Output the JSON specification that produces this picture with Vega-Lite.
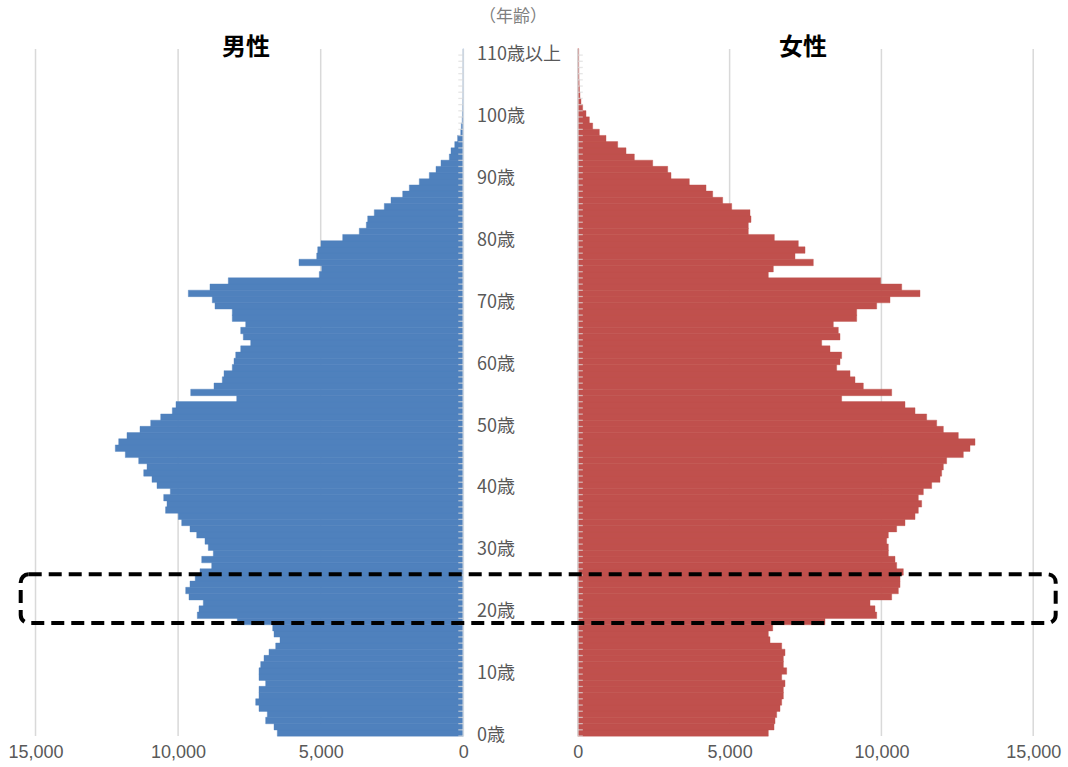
{
 "$schema": "https://vega.github.io/schema/vega-lite/v6.json",
 "width": 1068, "height": 736, "padding": 0,
 "background": "white",
 "config": {"view": {"stroke": null}, "bar": {"continuousBandSize": 6.5}},
 "datasets": {
  "pop": [
   {"age":0,"male":6521,"female":6275},{"age":1,"male":6637,"female":6463},{"age":2,"male":6930,"female":6496},{"age":3,"male":6872,"female":6551},{"age":4,"male":7163,"female":6660},
   {"age":5,"male":7280,"female":6716},{"age":6,"male":7163,"female":6770},{"age":7,"male":7163,"female":6770},{"age":8,"male":6930,"female":6825},{"age":9,"male":7163,"female":6716},
   {"age":10,"male":7163,"female":6880},{"age":11,"male":7104,"female":6770},{"age":12,"male":6988,"female":6770},{"age":13,"male":6813,"female":6825},{"age":14,"male":6578,"female":6716},
   {"age":15,"male":6427,"female":6331},{"age":16,"male":6637,"female":6275},{"age":17,"male":6683,"female":6420},{"age":18,"male":7924,"female":8142},{"age":19,"male":9327,"female":9845},
   {"age":20,"male":9267,"female":9789},{"age":21,"male":9117,"female":9625},{"age":22,"male":9618,"female":10339},{"age":23,"male":9734,"female":10558},{"age":24,"male":9583,"female":10613},
   {"age":25,"male":9400,"female":10613},{"age":26,"male":9232,"female":10722},{"age":27,"male":8822,"female":10503},{"age":28,"male":9172,"female":10448},{"age":29,"male":8766,"female":10228},
   {"age":30,"male":8941,"female":10228},{"age":31,"male":9057,"female":10173},{"age":32,"male":9348,"female":10228},{"age":33,"male":9583,"female":10503},{"age":34,"male":9874,"female":10777},
   {"age":35,"male":9993,"female":11107},{"age":36,"male":10440,"female":11216},{"age":37,"male":10389,"female":11326},{"age":38,"male":10505,"female":11216},{"age":39,"male":10273,"female":11381},
   {"age":40,"male":10740,"female":11656},{"age":41,"male":10915,"female":11930},{"age":42,"male":11206,"female":11985},{"age":43,"male":11090,"female":12040},{"age":44,"male":11382,"female":12149},
   {"age":45,"male":11851,"female":12698},{"age":46,"male":12202,"female":12918},{"age":47,"male":12083,"female":13083},{"age":48,"male":11792,"female":12533},{"age":49,"male":11336,"female":12040},
   {"age":50,"male":10961,"female":11821},{"age":51,"male":10610,"female":11491},{"age":52,"male":10203,"female":11107},{"age":53,"male":10074,"female":10777},{"age":54,"male":7945,"female":8691},
   {"age":55,"male":9558,"female":10339},{"age":56,"male":8741,"female":9404},{"age":57,"male":8450,"female":9130},{"age":58,"male":8390,"female":8966},{"age":59,"male":8100,"female":8526},
   {"age":60,"male":8040,"female":8636},{"age":61,"male":7980,"female":8691},{"age":62,"male":7805,"female":8307},{"age":63,"male":7455,"female":8033},{"age":64,"male":7714,"female":8636},
   {"age":65,"male":7805,"female":8581},{"age":66,"male":7630,"female":8416},{"age":67,"male":8100,"female":9186},{"age":68,"male":8100,"female":9186},{"age":69,"male":8706,"female":9845},
   {"age":70,"male":8801,"female":10283},{"age":71,"male":9642,"female":11271},{"age":72,"male":8882,"female":10669},{"age":73,"male":8240,"female":9977},{"age":74,"male":5049,"female":6275},
   {"age":75,"male":4965,"female":6440},{"age":76,"male":5761,"female":7757},{"age":77,"male":5140,"female":7154},{"age":78,"male":5105,"female":7484},{"age":79,"male":4990,"female":7263},
   {"age":80,"male":4229,"female":6473},{"age":81,"male":3647,"female":5616},{"age":82,"male":3400,"female":5616},{"age":83,"male":3352,"female":5705},{"age":84,"male":3121,"female":5672},
   {"age":85,"male":2770,"female":5069},{"age":86,"male":2535,"female":4772},{"age":87,"male":2125,"female":4443},{"age":88,"male":1893,"female":4223},{"age":89,"male":1543,"female":3673},
   {"age":90,"male":1192,"female":3070},{"age":91,"male":957,"female":2961},{"age":92,"male":782,"female":2467},{"age":93,"male":490,"female":1862},{"age":94,"male":431,"female":1588},
   {"age":95,"male":300,"female":1314},{"age":96,"male":200,"female":929},{"age":97,"male":90,"female":709},{"age":98,"male":70,"female":490},{"age":99,"male":40,"female":380},
   {"age":100,"male":30,"female":270},{"age":101,"male":20,"female":160},{"age":102,"male":15,"female":105},{"age":103,"male":10,"female":70},{"age":104,"male":8,"female":55},
   {"age":105,"male":6,"female":45},{"age":106,"male":5,"female":40},{"age":107,"male":4,"female":35},{"age":108,"male":3,"female":30},{"age":109,"male":2,"female":30},
   {"age":110,"male":2,"female":30}
  ],
  "grid": [{"v":5000},{"v":10000},{"v":15000}],
  "ages": [
   {"age":0,"label":"0歳"},{"age":10,"label":"10歳"},{"age":20,"label":"20歳"},{"age":30,"label":"30歳"},{"age":40,"label":"40歳"},{"age":50,"label":"50歳"},
   {"age":60,"label":"60歳"},{"age":70,"label":"70歳"},{"age":80,"label":"80歳"},{"age":90,"label":"90歳"},{"age":100,"label":"100歳"},{"age":110,"label":"110歳以上"}
  ]
 },
 "resolve": {"scale": {"x": "independent"}, "axis": {"x": "independent"}},
 "layer": [
  {
   "layer": [
    {"data": {"name": "grid"}, "mark": {"type": "rule", "color": "#d9d9d9", "strokeWidth": 1.5},
     "encoding": {
      "x": {"field": "v", "type": "quantitative", "scale": {"domain": [-21203, 16245], "reverse": true, "nice": false, "zero": false, "padding": 0},
            "axis": {"values": [0, 5000, 10000, 15000], "labelExpr": "format(datum.value, ',')", "orient": "bottom", "domain": false, "ticks": false, "grid": false, "title": null, "labelFont": "Liberation Sans", "labelFontSize": 18, "labelColor": "#595959", "labelPadding": 7, "labelOverlap": false, "labelFlush": false, "labelBound": false}},
      "y": {"datum": -0.5, "type": "quantitative", "scale": {"domain": [-0.5, 118.4], "nice": false, "zero": false, "padding": 0}, "axis": null},
      "y2": {"datum": 110.5}
     }},
    {"data": {"name": "pop"}, "mark": {"type": "bar", "orient": "horizontal", "height": 6.5, "color": "#4F81BD", "stroke": "#4F81BD", "strokeWidth": 0.4},
     "encoding": {
      "x": {"field": "male", "type": "quantitative", "scale": {"domain": [-21203, 16245], "reverse": true, "nice": false, "zero": false, "padding": 0},
            "axis": {"values": [0, 5000, 10000, 15000], "labelExpr": "format(datum.value, ',')", "orient": "bottom", "domain": false, "ticks": false, "grid": false, "title": null, "labelFont": "Liberation Sans", "labelFontSize": 18, "labelColor": "#595959", "labelPadding": 7, "labelOverlap": false, "labelFlush": false, "labelBound": false}},
      "y": {"field": "age", "type": "quantitative", "scale": {"domain": [-0.5, 118.4], "nice": false, "zero": false, "padding": 0}, "axis": null}
     }},
    {"data": {"values": [{}]}, "mark": {"type": "rule", "color": "#cdd6e0", "strokeWidth": 1.6},
     "encoding": {
      "x": {"datum": 0, "type": "quantitative"},
      "y": {"datum": -0.5, "type": "quantitative", "scale": {"domain": [-0.5, 118.4], "nice": false, "zero": false, "padding": 0}, "axis": null},
      "y2": {"datum": 110.5}
     }},
    {"data": {"name": "pop"}, "mark": {"type": "tick", "orient": "horizontal", "size": 5, "thickness": 1.3, "color": "#dcdcdc", "xOffset": -2.5, "yOffset": 3.1},
     "encoding": {
      "x": {"datum": 0, "type": "quantitative"},
      "y": {"field": "age", "type": "quantitative", "scale": {"domain": [-0.5, 118.4], "nice": false, "zero": false, "padding": 0}, "axis": null}
     }},
    {"data": {"name": "ages"}, "mark": {"type": "text", "align": "left", "baseline": "middle", "dy": 3.1, "font": "Liberation Sans Narrow, Noto Sans CJK JP", "fontSize": 18, "color": "#595959"},
     "encoding": {
      "x": {"datum": -480, "type": "quantitative"},
      "y": {"field": "age", "type": "quantitative", "scale": {"domain": [-0.5, 118.4], "nice": false, "zero": false, "padding": 0}, "axis": null},
      "text": {"field": "label"}
     }},
    {"data": {"values": [{}]}, "mark": {"type": "text", "text": "男性", "align": "center", "baseline": "middle", "font": "Noto Sans CJK JP", "fontWeight": "bold", "fontSize": 24, "color": "#000000"},
     "encoding": {
      "x": {"datum": 7619, "type": "quantitative"},
      "y": {"datum": 110.65, "type": "quantitative", "scale": {"domain": [-0.5, 118.4], "nice": false, "zero": false, "padding": 0}, "axis": null}
     }},
    {"data": {"values": [{}]}, "mark": {"type": "text", "text": "（年齢）", "align": "center", "baseline": "middle", "font": "Noto Sans CJK JP", "fontSize": 17, "color": "#7f7f7f"},
     "encoding": {
      "x": {"datum": -1743, "type": "quantitative"},
      "y": {"datum": 115.66, "type": "quantitative", "scale": {"domain": [-0.5, 118.4], "nice": false, "zero": false, "padding": 0}, "axis": null}
     }}
   ]
  },
  {
   "layer": [
    {"data": {"name": "grid"}, "mark": {"type": "rule", "color": "#d9d9d9", "strokeWidth": 1.5},
     "encoding": {
      "x": {"field": "v", "type": "quantitative", "scale": {"domain": [-19032, 16146], "nice": false, "zero": false, "padding": 0},
            "axis": {"values": [0, 5000, 10000, 15000], "labelExpr": "format(datum.value, ',')", "orient": "bottom", "domain": false, "ticks": false, "grid": false, "title": null, "labelFont": "Liberation Sans", "labelFontSize": 18, "labelColor": "#595959", "labelPadding": 7, "labelOverlap": false, "labelFlush": false, "labelBound": false}},
      "y": {"datum": -0.5, "type": "quantitative", "scale": {"domain": [-0.5, 118.4], "nice": false, "zero": false, "padding": 0}, "axis": null},
      "y2": {"datum": 110.5}
     }},
    {"data": {"name": "pop"}, "mark": {"type": "bar", "orient": "horizontal", "height": 6.5, "color": "#C0504D", "stroke": "#C0504D", "strokeWidth": 0.4},
     "encoding": {
      "x": {"field": "female", "type": "quantitative", "scale": {"domain": [-19032, 16146], "nice": false, "zero": false, "padding": 0},
            "axis": {"values": [0, 5000, 10000, 15000], "labelExpr": "format(datum.value, ',')", "orient": "bottom", "domain": false, "ticks": false, "grid": false, "title": null, "labelFont": "Liberation Sans", "labelFontSize": 18, "labelColor": "#595959", "labelPadding": 7, "labelOverlap": false, "labelFlush": false, "labelBound": false}},
      "y": {"field": "age", "type": "quantitative", "scale": {"domain": [-0.5, 118.4], "nice": false, "zero": false, "padding": 0}, "axis": null}
     }},
    {"data": {"values": [{}]}, "mark": {"type": "rule", "color": "#d9d2d2", "strokeWidth": 1.6},
     "encoding": {
      "x": {"datum": 0, "type": "quantitative"},
      "y": {"datum": -0.5, "type": "quantitative", "scale": {"domain": [-0.5, 118.4], "nice": false, "zero": false, "padding": 0}, "axis": null},
      "y2": {"datum": 110.5}
     }},
    {"data": {"name": "pop"}, "mark": {"type": "tick", "orient": "horizontal", "size": 5, "thickness": 1.3, "color": "#dcdcdc", "xOffset": 2.5, "yOffset": 3.1},
     "encoding": {
      "x": {"datum": 0, "type": "quantitative"},
      "y": {"field": "age", "type": "quantitative", "scale": {"domain": [-0.5, 118.4], "nice": false, "zero": false, "padding": 0}, "axis": null}
     }},
    {"data": {"values": [{}]}, "mark": {"type": "text", "text": "女性", "align": "center", "baseline": "middle", "font": "Noto Sans CJK JP", "fontWeight": "bold", "fontSize": 24, "color": "#000000"},
     "encoding": {
      "x": {"datum": 7418, "type": "quantitative"},
      "y": {"datum": 110.65, "type": "quantitative", "scale": {"domain": [-0.5, 118.4], "nice": false, "zero": false, "padding": 0}, "axis": null}
     }}
   ]
  },
  {"data": {"values": [{}]}, "mark": {"type": "rect", "filled": false, "color": "#000000", "strokeWidth": 4, "strokeDash": [13, 7], "cornerRadius": 8},
   "encoding": {
    "x": {"datum": 15519, "type": "quantitative", "scale": {"domain": [-21203, 16245], "reverse": true, "nice": false, "zero": false, "padding": 0}, "axis": null},
    "x2": {"datum": -20771},
    "y": {"datum": 25.62, "type": "quantitative", "scale": {"domain": [-0.5, 118.4], "nice": false, "zero": false, "padding": 0}, "axis": null},
    "y2": {"datum": 17.76}
   }}
 ]
}
